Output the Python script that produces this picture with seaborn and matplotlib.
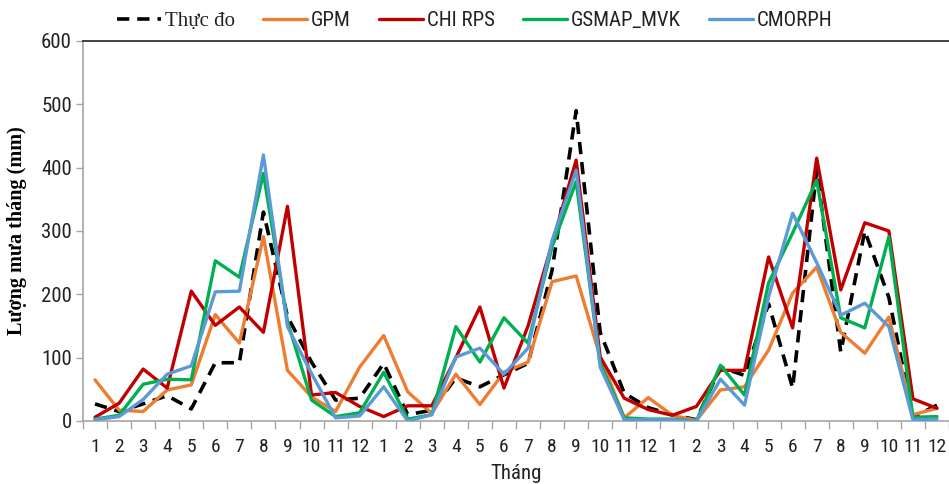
import matplotlib
matplotlib.use("Agg")
import matplotlib.pyplot as plt
from matplotlib import font_manager
import seaborn as sns
import pandas as pd
import numpy as np

months = list(range(1, 13)) * 3
thuc_do = [27, 15, 27, 40, 19, 92, 92, 330, 165, 93, 33, 36, 91, 10, 17, 68, 54, 73, 91, 238, 490, 140, 44, 21, 10, 2, 85, 72, 185, 52, 396, 109, 300, 195, 6, 25]
gpm = [65, 17, 15, 49, 57, 168, 123, 291, 80, 38, 15, 85, 135, 46, 12, 74, 26, 77, 93, 220, 229, 101, 5, 37, 9, 1, 49, 54, 112, 202, 243, 140, 107, 164, 10, 20]
chirps = [6, 28, 82, 52, 205, 151, 180, 140, 339, 41, 45, 23, 7, 24, 24, 100, 180, 52, 150, 280, 412, 101, 36, 18, 9, 23, 80, 80, 259, 147, 415, 207, 313, 300, 35, 20]
gsmap = [3, 9, 58, 66, 65, 253, 227, 391, 157, 33, 7, 13, 77, 3, 10, 149, 93, 163, 123, 275, 378, 91, 5, 3, 3, 0, 88, 41, 218, 297, 380, 163, 147, 291, 6, 7]
cmorph = [2, 7, 34, 74, 87, 204, 205, 420, 149, 75, 5, 8, 54, 0, 10, 101, 115, 74, 115, 285, 396, 85, 2, 2, 2, 0, 66, 25, 196, 328, 250, 167, 186, 149, 2, 3]

series_names = ["Thực đo", "GPM", "CHI RPS", "GSMAP_MVK", "CMORPH"]
series_vals = [thuc_do, gpm, chirps, gsmap, cmorph]
colors = ["#000000", "#ED7D31", "#C00000", "#00B050", "#5B9BD5"]

sns.set_theme(style="white")
names = sorted({f.name for f in font_manager.fontManager.ttflist})
prefs = ["Liberation Sans Narrow", "Arial Narrow", "Roboto Condensed", "Open Sans Condensed",
         "Noto Sans Condensed", "Noto Sans SemiCondensed", "Roboto Flex"]
narrow = None
for p in prefs:
    if p in names:
        narrow = p
        break
if narrow is None:
    cands = [n for n in names if ("Narrow" in n or "Condensed" in n) and "Serif" not in n]
    narrow = cands[0] if cands else "Liberation Sans"
serif = "Liberation Serif"
plt.rcParams["font.family"] = [narrow, "DejaVu Sans"]

fs_tick = 14

fig = plt.figure(figsize=(9.49, 4.84), dpi=100)
ax = fig.add_axes([83/949, 63/484, 866/949, 380/484])

rows = []
for name, vals in zip(series_names, series_vals):
    for i, v in enumerate(vals):
        rows.append({"idx": i, "value": v, "series": name})
df = pd.DataFrame(rows)

for name, col in zip(series_names, colors):
    sub = df[df["series"] == name]
    if name == "Thực đo":
        sns.lineplot(data=sub, x="idx", y="value", ax=ax, color=col, lw=2.6,
                     linestyle=(0, (3.4, 2.2)), label=name, zorder=2)
    else:
        sns.lineplot(data=sub, x="idx", y="value", ax=ax, color=col, lw=2.4,
                     label=name, zorder=3)

ax.set_xlim(-0.5, 35.5)
ax.set_ylim(0, 600)
ax.set_yticks(range(0, 601, 100))
ax.set_xticks(range(36))
ax.set_xticklabels([str(m) for m in months], fontsize=fs_tick, color="#222222")
ax.set_xticks(np.arange(-0.5, 36, 1), minor=True)
ax.tick_params(axis="x", which="major", length=0, pad=12)
ax.tick_params(axis="x", which="minor", length=6, width=1, color="#A6A6A6", direction="out", bottom=True)
ax.tick_params(axis="y", which="major", length=5, width=1, color="#A6A6A6", direction="out", left=True,
               labelsize=fs_tick + 1, labelcolor="#222222", pad=3)
for s in ["left", "bottom"]:
    ax.spines[s].set_color("#A6A6A6")
    ax.spines[s].set_linewidth(1.2)
ax.spines["top"].set_color("#222222")
ax.spines["top"].set_linewidth(1.2)
ax.spines["right"].set_visible(False)
ax.grid(False)

ax.set_xlabel("Tháng", fontsize=15, color="#222222", labelpad=6)
ax.set_ylabel("Lượng mưa tháng (mm)", fontsize=14.5, fontweight="bold", family=serif, color="#000000", labelpad=10)

ax.get_legend().remove()
handles, labels = ax.get_legend_handles_labels()
leg = fig.legend(handles, labels, loc="center left", bbox_to_anchor=(117/949, 1 - 21/484), ncol=5,
                 frameon=False, fontsize=15, handlelength=2.1, handletextpad=0.2, columnspacing=1.35,
                 borderaxespad=0, borderpad=0)
for t in leg.get_texts():
    t.set_color("#222222")
leg.get_texts()[0].set_family(serif)

fig.savefig("out.png", dpi=100)
